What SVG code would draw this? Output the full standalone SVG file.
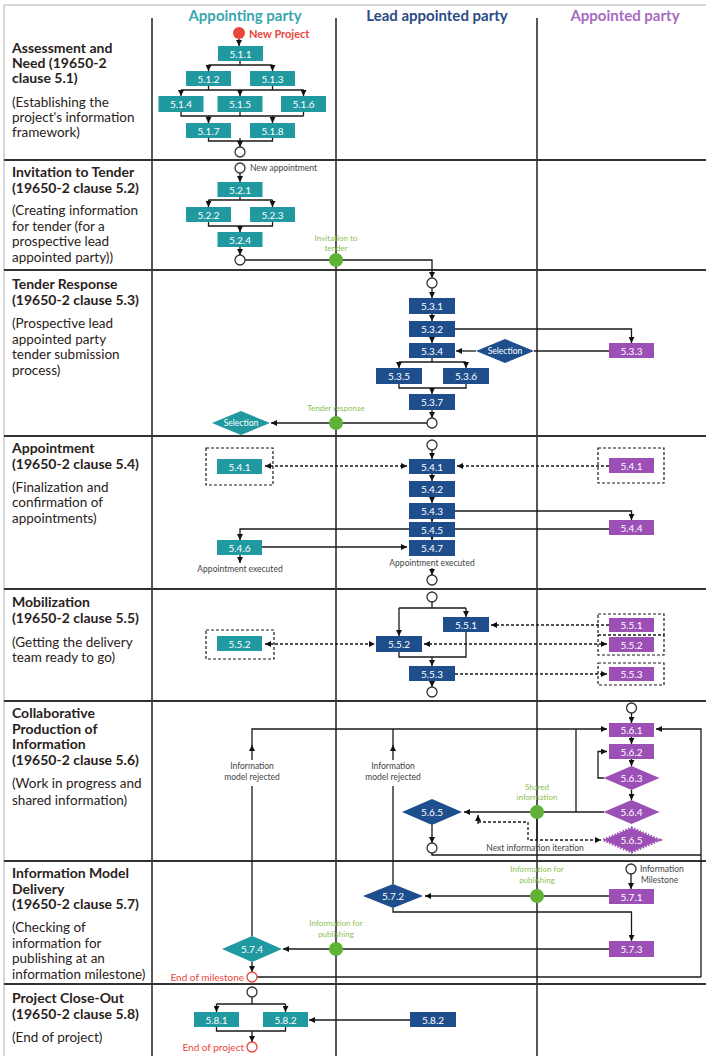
<svg xmlns="http://www.w3.org/2000/svg" width="706" height="1056" viewBox="0 0 706 1056">
<defs>
<marker id="ah" viewBox="0 0 6 6" refX="6" refY="3" markerWidth="6" markerHeight="6" markerUnits="userSpaceOnUse" orient="auto-start-reverse"><path d="M0,0 L6,3 L0,6 z" fill="#111"/></marker>
</defs>
<style>
text{font-family:Lato,"Liberation Sans",sans-serif}
.teal{fill:#2199a0}
.blue{fill:#1f4e8c}
.purple{fill:#9c50b5}
.lbl{font-size:10px;fill:#fff;text-anchor:middle}
.c{stroke:#1a1a1a;stroke-width:1.3;fill:none}
.a{marker-end:url(#ah)}
.ab{marker-start:url(#ah);marker-end:url(#ah)}
.d{stroke-dasharray:3,2}
.frame{fill:none;stroke:#1a1a1a;stroke-width:1.2;stroke-dasharray:3,2}
.oc{fill:#fff;stroke:#333;stroke-width:1.3}
.rc{fill:#fff;stroke:#e8453c;stroke-width:1.3}
.gc{fill:#5fb236}
.gl{font-size:8px;fill:#8cc152;text-anchor:middle}
.sm{font-size:8.5px;fill:#444}
.smc{font-size:8.5px;fill:#444;text-anchor:middle}
.red{font-size:10px;fill:#e8453c}
.h{font-size:14px;font-weight:bold;fill:#2a2220}
.p{font-size:13.5px;fill:#2a2220}
.div{stroke:#222;stroke-width:1.5}
.hdiv{stroke:#333;stroke-width:2}
</style>
<rect x="0" y="0" width="706" height="1056" fill="#fff"/>
<g id="grid">
<path d="M4,5 H706 M4,5 V1056" stroke="#b0b0b0" stroke-width="1" fill="none"/>
<path class="div" d="M152,18 V1056 M336,18 V1056 M537,18 V1056"/>
<path class="hdiv" d="M4,160 H706 M4,270 H706 M4,436 H706 M4,589 H706 M4,701 H706 M4,861 H706 M4,984 H706"/>
</g>
<g id="headers" font-size="15" font-weight="bold" text-anchor="middle">
<text x="245" y="21" fill="#38a6af">Appointing party</text>
<text x="437" y="21" fill="#2c4a85">Lead appointed party</text>
<text x="625" y="21" fill="#a66cbf">Appointed party</text>
</g>
<g id="phases">
<text class="h" x="12" y="53">Assessment and</text>
<text class="h" x="12" y="68">Need (19650-2</text>
<text class="h" x="12" y="83">clause 5.1)</text>
<text class="p" x="12" y="107">(Establishing the</text>
<text class="p" x="12" y="122">project's information</text>
<text class="p" x="12" y="137">framework)</text>
<text class="h" x="12" y="177">Invitation to Tender</text>
<text class="h" x="12" y="193">(19650-2 clause 5.2)</text>
<text class="p" x="12" y="215">(Creating information</text>
<text class="p" x="12" y="231">for tender (for a</text>
<text class="p" x="12" y="246">prospective lead</text>
<text class="p" x="12" y="262">appointed party))</text>
<text class="h" x="12" y="289">Tender Response</text>
<text class="h" x="12" y="305">(19650-2 clause 5.3)</text>
<text class="p" x="12" y="328">(Prospective lead</text>
<text class="p" x="12" y="344">appointed party</text>
<text class="p" x="12" y="359">tender submission</text>
<text class="p" x="12" y="375">process)</text>
<text class="h" x="12" y="453">Appointment</text>
<text class="h" x="12" y="469">(19650-2 clause 5.4)</text>
<text class="p" x="12" y="492">(Finalization and</text>
<text class="p" x="12" y="507">confirmation of</text>
<text class="p" x="12" y="523">appointments)</text>
<text class="h" x="12" y="607">Mobilization</text>
<text class="h" x="12" y="623">(19650-2 clause 5.5)</text>
<text class="p" x="12" y="647">(Getting the delivery</text>
<text class="p" x="12" y="662">team ready to go)</text>
<text class="h" x="12" y="718">Collaborative</text>
<text class="h" x="12" y="734">Production of</text>
<text class="h" x="12" y="749">Information</text>
<text class="h" x="12" y="765">(19650-2 clause 5.6)</text>
<text class="p" x="12" y="788">(Work in progress and</text>
<text class="p" x="12" y="805">shared information)</text>
<text class="h" x="12" y="878">Information Model</text>
<text class="h" x="12" y="894">Delivery</text>
<text class="h" x="12" y="909">(19650-2 clause 5.7)</text>
<text class="p" x="12" y="932">(Checking of</text>
<text class="p" x="12" y="948">information for</text>
<text class="p" x="12" y="963">publishing at an</text>
<text class="p" x="12" y="979">information milestone)</text>
<text class="h" x="12" y="1003">Project Close-Out</text>
<text class="h" x="12" y="1019">(19650-2 clause 5.8)</text>
<text class="p" x="12" y="1042">(End of project)</text>
</g>
<g id="connectors">
<path class="c a" d="M239,39 V46"/>
<path class="c" d="M240,61 V65 M181,90 H304 M208.5,65 H272.5 M208.5,86 V90 M272.5,86 V90 M181,112 V116 H303.5 M240,112 V116 M303.5,112 V116 M208.5,116 V123 M240,138 V141 M208.5,138 V141 H272.5 V138"/>
<path class="c a" d="M208.5,65 V71"/><path class="c a" d="M272.5,65 V71"/>
<path class="c a" d="M181,90 V96"/><path class="c a" d="M240,90 V96"/><path class="c a" d="M303.5,90 V96"/>
<path class="c a" d="M208.5,116 V123"/><path class="c a" d="M272.5,116 V123"/>
<path class="c a" d="M240,141 V147"/>
<path class="c a" d="M240,173 V182"/>
<path class="c" d="M240,197 V200 M208.5,200 H272.5 M208.5,222 V226 H272.5 V222"/>
<path class="c a" d="M208.5,200 V207"/><path class="c a" d="M272.5,200 V207"/>
<path class="c a" d="M240,226 V232"/>
<path class="c a" d="M240,247 V255"/>
<path class="c a" d="M245,260 H432 V278"/>
<path class="c a" d="M432,288 V298"/>
<path class="c a" d="M432,314 V321"/>
<path class="c a" d="M455,329 H631.5 V343"/>
<path class="c a" d="M432,337 V343"/>
<path class="c" d="M609,351 H534"/>
<path class="c a" d="M476,351 H456"/>
<path class="c" d="M432,358 V362 M399,362 H466 M399,384 V388 H466 V384"/>
<path class="c a" d="M399,362 V368"/><path class="c a" d="M466,362 V368"/>
<path class="c a" d="M432,388 V394"/>
<path class="c a" d="M432,410 V418"/>
<path class="c a" d="M427,423 H271"/>
<path class="c a" d="M432,450 V459"/>
<path class="c d ab" d="M265,466 H407"/>
<path class="c d a" d="M609,466 H457"/>
<path class="c a" d="M432,474 V481"/>
<path class="c a" d="M432,497 V503"/>
<path class="c a" d="M432,519 V522"/>
<path class="c a" d="M455,511 H631.5 V520"/>
<path class="c a" d="M609,529 H240 V540"/>
<path class="c a" d="M432,537 V540"/>
<path class="c a" d="M262,547 H407"/>
<path class="c a" d="M240,555 V563"/>
<path class="c a" d="M432,568 V575"/>
<path class="c" d="M432,602 V608 M399,608 H466"/>
<path class="c a" d="M399,608 V636"/><path class="c a" d="M466,608 V617"/>
<path class="c" d="M399,652 V657 H466 V632"/>
<path class="c a" d="M432,657 V666"/>
<path class="c a" d="M432,681 V687"/>
<path class="c d ab" d="M265,644 H375"/>
<path class="c d a" d="M609,625 H491"/>
<path class="c d ab" d="M424,644 H607"/>
<path class="c d a" d="M455,674 H607"/>
<path class="c a" d="M631.5,713 V723"/>
<path class="c" d="M252,936 V786 M393,884 V786 M393,746 V729"/>
<path class="c a" d="M252,746 V729 H607"/>
<path class="c a" d="M252,760 V745"/>
<path class="c a" d="M393,760 V745"/>
<path class="c" d="M576,812 V729"/>
<path class="c a" d="M701,977 V729 H656"/>
<path class="c" d="M257,977 H701"/>
<path class="c" d="M432,853 V855 H701"/>
<path class="c a" d="M631.5,737 V744"/>
<path class="c a" d="M631.5,759 V766"/>
<path class="c a" d="M604,778 H598 V751.5 H607"/>
<path class="c a" d="M631.5,790 V800"/>
<path class="c a" d="M604,812 H464"/>
<path class="c" d="M537,819 V840"/>
<path class="c d a" d="M478,822 H528 V840 H601"/>
<path class="c a" d="M478,824 V815"/>
<path class="c a" d="M432,825 V843"/>
<path class="c a" d="M631,874 V889"/>
<path class="c a" d="M609,896 H425"/>
<path class="c a" d="M393,908 V912 H631.5 V941"/>
<path class="c a" d="M609,949 H283"/>
<path class="c a" d="M252,962 V972"/>
<path class="c" d="M252,997 V1004 M216.5,1004 H285.5 M216.5,1027 V1031 H285.5 V1027"/>
<path class="c a" d="M216.5,1004 V1012"/><path class="c a" d="M285.5,1004 V1012"/>
<path class="c a" d="M252,1031 V1042"/>
<path class="c a" d="M410,1020 H309"/>
</g>
<g id="start"><circle cx="239" cy="33" r="6" fill="#e8453c"/><text x="249" y="38" font-size="11" font-weight="bold" fill="#e8453c">New Project</text></g>
<g id="n511"><rect class="teal" x="218" y="46" width="45" height="15"/><text class="lbl" x="240.5" y="57.5">5.1.1</text></g>
<g id="n512"><rect class="teal" x="186" y="71" width="45" height="15"/><text class="lbl" x="208.5" y="82.5">5.1.2</text></g>
<g id="n513"><rect class="teal" x="250" y="71" width="45" height="15"/><text class="lbl" x="272.5" y="82.5">5.1.3</text></g>
<g id="n514"><rect class="teal" x="158.5" y="96" width="45" height="16"/><text class="lbl" x="181" y="107.5">5.1.4</text></g>
<g id="n515"><rect class="teal" x="217.5" y="96" width="45" height="16"/><text class="lbl" x="240" y="107.5">5.1.5</text></g>
<g id="n516"><rect class="teal" x="281" y="96" width="45" height="16"/><text class="lbl" x="303.5" y="107.5">5.1.6</text></g>
<g id="n517"><rect class="teal" x="186" y="123" width="45" height="15"/><text class="lbl" x="208.5" y="134.5">5.1.7</text></g>
<g id="n518"><rect class="teal" x="250" y="123" width="45" height="15"/><text class="lbl" x="272.5" y="134.5">5.1.8</text></g>
<g id="c1"><circle class="oc" cx="240" cy="152" r="5"/></g>
<g id="c2"><circle class="oc" cx="240" cy="168" r="5"/><text class="sm" x="250" y="171">New appointment</text></g>
<g id="n521"><rect class="teal" x="217.5" y="182" width="45" height="15"/><text class="lbl" x="240" y="193.5">5.2.1</text></g>
<g id="n522"><rect class="teal" x="186" y="207" width="45" height="15"/><text class="lbl" x="208.5" y="218.5">5.2.2</text></g>
<g id="n523"><rect class="teal" x="250" y="207" width="45" height="15"/><text class="lbl" x="272.5" y="218.5">5.2.3</text></g>
<g id="n524"><rect class="teal" x="217.5" y="232" width="45" height="15"/><text class="lbl" x="240" y="243.5">5.2.4</text></g>
<g id="c3"><circle class="oc" cx="240" cy="260" r="5"/></g>
<g id="g1"><circle class="gc" cx="336" cy="260" r="7"/><text class="gl" x="336" y="241">Invitation to</text><text class="gl" x="336" y="251">tender</text></g>
<g id="c4"><circle class="oc" cx="432" cy="283" r="5"/></g>
<g id="n531"><rect class="blue" x="409" y="298" width="46" height="16"/><text class="lbl" x="432" y="310">5.3.1</text></g>
<g id="n532"><rect class="blue" x="409" y="321" width="46" height="16"/><text class="lbl" x="432" y="333">5.3.2</text></g>
<g id="n533"><rect class="purple" x="609" y="343" width="45" height="15"/><text class="lbl" x="631.5" y="354.5">5.3.3</text></g>
<g id="n534"><rect class="blue" x="409" y="343" width="46" height="15"/><text class="lbl" x="432" y="354.5">5.3.4</text></g>
<g id="selB"><path class="blue" d="M476,351 L505,339 L534,351 L505,363 z"/><text x="505" y="354" font-size="8.5" fill="#fff" text-anchor="middle">Selection</text></g>
<g id="n535"><rect class="blue" x="376" y="368" width="46" height="16"/><text class="lbl" x="399" y="380">5.3.5</text></g>
<g id="n536"><rect class="blue" x="443" y="368" width="46" height="16"/><text class="lbl" x="466" y="380">5.3.6</text></g>
<g id="n537"><rect class="blue" x="409" y="394" width="46" height="16"/><text class="lbl" x="432" y="406">5.3.7</text></g>
<g id="c5"><circle class="oc" cx="432" cy="423" r="5"/></g>
<g id="g2"><circle class="gc" cx="336" cy="423" r="7"/><text class="gl" x="336" y="411">Tender response</text></g>
<g id="selT"><path class="teal" d="M212,423 L241,411 L270,423 L241,435 z"/><text x="241" y="426" font-size="8.5" fill="#fff" text-anchor="middle">Selection</text></g>
<g id="c6"><circle class="oc" cx="432" cy="445" r="5"/></g>
<g id="n541a"><rect class="frame" x="206" y="448" width="67" height="37"/><rect class="teal" x="217" y="459" width="45" height="15"/><text class="lbl" x="239.5" y="470.5">5.4.1</text></g>
<g id="n541b"><rect class="blue" x="409" y="459" width="46" height="15"/><text class="lbl" x="432" y="470.5">5.4.1</text></g>
<g id="n541c"><rect class="frame" x="598" y="448" width="66" height="35"/><rect class="purple" x="609" y="458" width="45" height="15"/><text class="lbl" x="631.5" y="469.5">5.4.1</text></g>
<g id="n542"><rect class="blue" x="409" y="481" width="46" height="16"/><text class="lbl" x="432" y="493">5.4.2</text></g>
<g id="n543"><rect class="blue" x="409" y="503" width="46" height="16"/><text class="lbl" x="432" y="515">5.4.3</text></g>
<g id="n544"><rect class="purple" x="609" y="520" width="45" height="15"/><text class="lbl" x="631.5" y="531.5">5.4.4</text></g>
<g id="n545"><rect class="blue" x="409" y="522" width="46" height="15"/><text class="lbl" x="432" y="533.5">5.4.5</text></g>
<g id="n546"><rect class="teal" x="217" y="540" width="45" height="15"/><text class="lbl" x="239.5" y="551.5">5.4.6</text><text class="smc" x="240" y="572">Appointment executed</text></g>
<g id="n547"><rect class="blue" x="409" y="540" width="46" height="16"/><text class="lbl" x="432" y="552">5.4.7</text><text class="smc" x="432" y="566">Appointment executed</text></g>
<g id="c7"><circle class="oc" cx="432" cy="580" r="5"/></g>
<g id="c8"><circle class="oc" cx="432" cy="597" r="5"/></g>
<g id="n551b"><rect class="blue" x="443" y="617" width="46" height="15"/><text class="lbl" x="466" y="628.5">5.5.1</text></g>
<g id="n552b"><rect class="blue" x="376" y="636" width="46" height="16"/><text class="lbl" x="399" y="648">5.5.2</text></g>
<g id="n553b"><rect class="blue" x="409" y="666" width="46" height="15"/><text class="lbl" x="432" y="677.5">5.5.3</text></g>
<g id="c9"><circle class="oc" cx="432" cy="692" r="5"/></g>
<g id="n552a"><rect class="frame" x="206" y="630" width="68" height="29"/><rect class="teal" x="217" y="636" width="45" height="15"/><text class="lbl" x="239.5" y="647.5">5.5.2</text></g>
<g id="n551c"><rect class="frame" x="598" y="614" width="66" height="21"/><rect class="purple" x="609" y="618" width="45" height="14"/><text class="lbl" x="631.5" y="629">5.5.1</text></g>
<g id="n552c"><rect class="frame" x="598" y="635" width="66" height="20"/><rect class="purple" x="609" y="637" width="45" height="15"/><text class="lbl" x="631.5" y="648.5">5.5.2</text></g>
<g id="n553c"><rect class="frame" x="598" y="663" width="66" height="22"/><rect class="purple" x="609" y="667" width="45" height="14"/><text class="lbl" x="631.5" y="678">5.5.3</text></g>
<g id="c10"><circle class="oc" cx="631.5" cy="708" r="5"/></g>
<g id="n561"><rect class="purple" x="609" y="723" width="45" height="14"/><text class="lbl" x="631.5" y="734">5.6.1</text></g>
<g id="n562"><rect class="purple" x="609" y="744" width="45" height="15"/><text class="lbl" x="631.5" y="755.5">5.6.2</text></g>
<g id="n563"><path class="purple" d="M603.5,778 L631.5,766 L659.5,778 L631.5,790 z"/><text class="lbl" x="631.5" y="781.5">5.6.3</text></g>
<g id="n564"><path class="purple" d="M603.5,812 L631.5,800 L659.5,812 L631.5,824 z"/><text class="lbl" x="631.5" y="815.5">5.6.4</text></g>
<g id="n565c"><path class="purple" d="M603.5,840 L631.5,828 L659.5,840 L631.5,852 z" stroke="#9c50b5" stroke-width="3" stroke-dasharray="1.5,1.5"/><text class="lbl" x="631.5" y="843.5">5.6.5</text></g>
<g id="n565b"><path class="blue" d="M402,812 L432,799 L462,812 L432,825 z"/><text class="lbl" x="432" y="815.5">5.6.5</text></g>
<g id="c11"><circle class="oc" cx="432" cy="848" r="5"/><text class="smc" x="535" y="851">Next information iteration</text></g>
<g id="g3"><circle class="gc" cx="537" cy="812" r="7"/><text class="gl" x="537" y="790">Shared</text><text class="gl" x="537" y="800">information</text></g>
<g id="rej1"><text class="smc" x="252" y="769">Information</text><text class="smc" x="252" y="780">model rejected</text></g>
<g id="rej2"><text class="smc" x="393" y="769">Information</text><text class="smc" x="393" y="780">model rejected</text></g>
<g id="c12"><circle class="oc" cx="631" cy="869" r="5"/><text class="sm" x="640" y="872">Information</text><text class="sm" x="641" y="883">Milestone</text></g>
<g id="n571"><rect class="purple" x="609" y="889" width="45" height="15"/><text class="lbl" x="631.5" y="900.5">5.7.1</text></g>
<g id="g4"><circle class="gc" cx="537" cy="896" r="7"/><text class="gl" x="537" y="872">Information for</text><text class="gl" x="537" y="883">publishing</text></g>
<g id="n572"><path class="blue" d="M363,896 L393,884 L423,896 L393,908 z"/><text class="lbl" x="393" y="899.5">5.7.2</text></g>
<g id="n573"><rect class="purple" x="609" y="941" width="45" height="16"/><text class="lbl" x="631.5" y="953">5.7.3</text></g>
<g id="g5"><circle class="gc" cx="336" cy="949" r="7"/><text class="gl" x="336" y="926">Information for</text><text class="gl" x="336" y="937">publishing</text></g>
<g id="n574"><path class="teal" d="M222,949 L252,936 L282,949 L252,962 z"/><text class="lbl" x="252" y="952.5">5.7.4</text></g>
<g id="endM"><circle class="rc" cx="252" cy="977" r="5"/><text class="red" x="244" y="981" text-anchor="end">End of milestone</text></g>
<g id="c13"><circle class="oc" cx="252" cy="992" r="5"/></g>
<g id="n581"><rect class="teal" x="194" y="1012" width="45" height="15"/><text class="lbl" x="216.5" y="1023.5">5.8.1</text></g>
<g id="n582a"><rect class="teal" x="263" y="1012" width="45" height="15"/><text class="lbl" x="285.5" y="1023.5">5.8.2</text></g>
<g id="n582b"><rect class="blue" x="410" y="1012" width="46" height="15"/><text class="lbl" x="433" y="1023.5">5.8.2</text></g>
<g id="endP"><circle class="rc" cx="252" cy="1047" r="5"/><text class="red" x="244" y="1051" text-anchor="end">End of project</text></g>
</svg>
